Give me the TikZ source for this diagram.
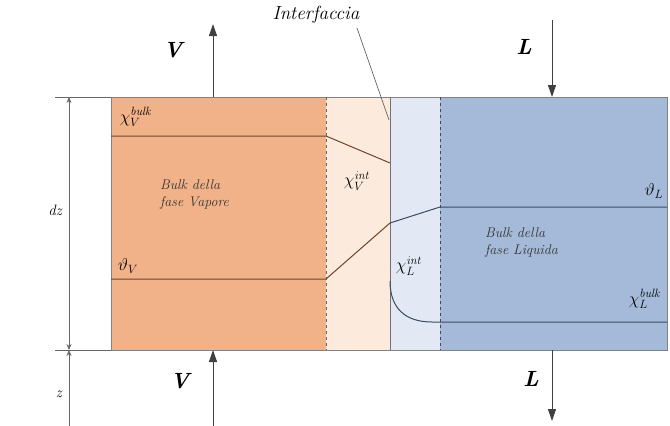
\documentclass[tikz,border=0pt]{standalone}
\usetikzlibrary{arrows.meta}
\definecolor{orangeA}{RGB}{241,178,137}
\definecolor{orangeB}{RGB}{252,234,220}
\definecolor{blueB}{RGB}{226,233,244}
\definecolor{blueA}{RGB}{164,186,216}
\definecolor{frame}{RGB}{130,130,130}
\definecolor{brownline}{RGB}{110,70,45}
\definecolor{blueline}{RGB}{60,75,95}
\tikzset{
  flow/.style={draw=black!75, line width=1pt, -{Triangle[length=12pt,width=8pt]}},
  flowlabel/.style={font=\fontsize{22}{24}\selectfont\bfseries\itshape, inner sep=0pt},
  dimline/.style={draw=black!60, line width=0.6pt},
  profile/.style={line width=1pt},
  sym/.style={inner sep=0pt, font=\fontsize{18}{20}\selectfont},
  bulktext/.style={font=\fontsize{14}{17}\selectfont\itshape, align=left, inner sep=0pt, text=black!80}
}
\begin{document}
\begin{tikzpicture}[x=1pt,y=-1pt]
\useasboundingbox (0,0) rectangle (670,426);
\fill[white] (0,0) rectangle (670,426);
% regions
\fill[orangeA] (111,97) rectangle (326,350);
\fill[orangeB] (326,97) rectangle (390,350);
\fill[blueB] (390,97) rectangle (440,350);
\fill[blueA] (440,97) rectangle (667,350);
\draw[frame, line width=1pt] (111,97) rectangle (667,350);
\draw[black!60, dashed, line width=0.9pt] (326,97) -- (326,350);
\draw[black!55, line width=1pt] (390,97) -- (390,350);
\draw[blueline, dashed, line width=0.9pt] (440,97) -- (440,350);
% profiles
\draw[profile, brownline] (111,136) -- (326,136) -- (390,163);
\draw[profile, brownline] (111,279) -- (326,279) -- (390,223);
\draw[profile, blueline] (390,223) -- (440,207) -- (667,207);
\draw[profile, blueline] (390,281) .. controls (390,308) and (405,322) .. (432,322) -- (667,322);
% interface label
\node[font=\fontsize{19}{21}\selectfont\itshape, inner sep=0pt] (interf) at (316,15) {Interfaccia};
\coordinate (interfEnd) at (389,120);
\draw[black!60, line width=0.7pt] (357,28) -- (interfEnd);
% flows
\coordinate (vTopS) at (213,97);
\coordinate (vTopE) at (213,24);
\draw[flow] (vTopS) -- (vTopE);
\node[flowlabel] (vTop) at (173,50) {V};
\coordinate (lTopS) at (552,20);
\coordinate (lTopE) at (552,97);
\draw[flow] (lTopS) -- (lTopE);
\node[flowlabel] (lTop) at (524,47) {L};
\coordinate (vBotS) at (213,426);
\coordinate (vBotE) at (213,350);
\draw[flow] (vBotS) -- (vBotE);
\node[flowlabel] (vBot) at (180,381) {V};
\coordinate (lBotS) at (552,350);
\coordinate (lBotE) at (552,421);
\draw[flow] (lBotS) -- (lBotE);
\node[flowlabel] (lBot) at (531,379) {L};
% dimensions
\coordinate (dTop) at (69,97);
\coordinate (dBot) at (69,350);
\coordinate (zEnd) at (69,426);
\draw[dimline] (55,97) -- (111,97);
\draw[dimline] (55,350) -- (111,350);
\draw[dimline, {Stealth[length=6pt,width=5pt]}-{Stealth[length=6pt,width=5pt]}] (dTop) -- (dBot);
\draw[dimline, {Stealth[length=6pt,width=5pt]}-] (dBot) -- (zEnd);
\node[font=\fontsize{15}{17}\selectfont\itshape, inner sep=0pt] (dz) at (55,210) {dz};
\node[font=\fontsize{15}{17}\selectfont\itshape, inner sep=0pt] (z) at (59,394) {z};
% symbols
\node[sym] (chiVb) at (136,117) {$\chi^{\mathit{bulk}}_{V}$};
\node[sym] (thV) at (128,266) {$\vartheta_{V}$};
\node[sym] (chiVi) at (357,181) {$\chi^{\mathit{int}}_{V}$};
\node[sym] (chiLi) at (409,266) {$\chi^{\mathit{int}}_{L}$};
\node[sym] (thL) at (654,191) {$\vartheta_{L}$};
\node[sym] (chiLb) at (645,299) {$\chi^{\mathit{bulk}}_{L}$};
% bulk texts
\node[bulktext, anchor=west] (bulkV) at (160,195) {Bulk della\\fase Vapore};
\node[bulktext, anchor=west] (bulkL) at (485,243) {Bulk della\\fase Liquida};
\end{tikzpicture}
\end{document}
